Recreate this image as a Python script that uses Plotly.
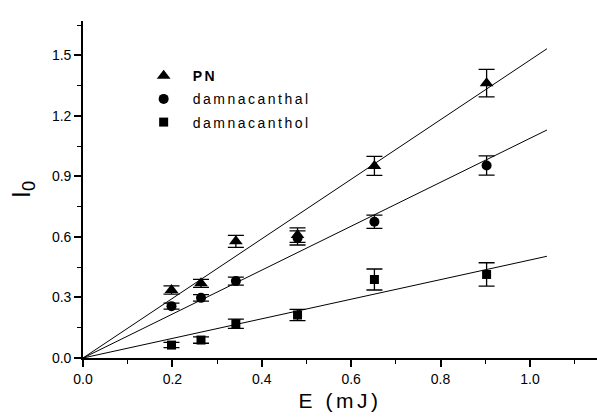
import plotly.graph_objects as go
import numpy as np

# Data
energy = [0.198, 0.264, 0.342, 0.48, 0.652, 0.903]

pn_vals = [0.337, 0.370, 0.578, 0.609, 0.952, 1.362]
pn_err = [0.020, 0.020, 0.030, 0.036, 0.047, 0.068]

dal_vals = [0.257, 0.298, 0.381, 0.595, 0.675, 0.954]
dal_err = [0.015, 0.016, 0.020, 0.035, 0.033, 0.048]

dol_vals = [0.064, 0.089, 0.170, 0.213, 0.389, 0.414]
dol_err = [0.013, 0.016, 0.023, 0.028, 0.052, 0.058]

series_names = ["<b>PN</b>", "damnacanthal", "damnacanthol"]
symbols = ["triangle-up", "circle", "square"]
marker_sizes = [12, 10, 9]

fit_x_max = 1.038

fig = go.Figure()

all_vals = [pn_vals, dal_vals, dol_vals]
all_err = [pn_err, dal_err, dol_err]
x = np.array(energy)

for i, (name, vals, err, sym, ms) in enumerate(zip(series_names, all_vals, all_err, symbols, marker_sizes)):
    y = np.array(vals)
    # linear fit through origin
    slope = float(np.sum(x * y) / np.sum(x * x))
    fx = np.array([0.0, fit_x_max])
    fig.add_trace(go.Scatter(
        x=fx, y=slope * fx, mode="lines",
        line=dict(color="black", width=1),
        showlegend=False, hoverinfo="skip"))
    fig.add_trace(go.Scatter(
        x=energy, y=vals, mode="markers", name=name,
        legendgroup=f"g{i}",
        marker=dict(symbol=sym, size=ms, color="black"),
        error_y=dict(type="data", array=err, visible=True,
                     color="black", thickness=1.3, width=8)))

axis_font = dict(family="Liberation Sans, Arial, sans-serif", size=14, color="black")

fig.update_layout(
    width=597, height=418,
    margin=dict(l=83, r=0, t=21, b=60),
    paper_bgcolor="white", plot_bgcolor="white",
    font=axis_font,
    showlegend=True,
    legend=dict(
        x=0.118, y=0.884, xanchor="left", yanchor="top",
        bgcolor="rgba(0,0,0,0)", borderwidth=0,
        font=dict(family="Liberation Sans, Arial, sans-serif", size=14, color="black"),
        traceorder="grouped", tracegroupgap=2,
    ),
    xaxis=dict(
        range=[0, 1.15], dtick=0.2, tick0=0, tickformat=".1f",
        showgrid=False, zeroline=False,
        showline=True, linecolor="black", linewidth=1.6,
        ticks="outside", ticklen=7, tickwidth=1.5, tickcolor="black",
        minor=dict(dtick=0.1, ticks="outside", ticklen=4, tickwidth=1.3, tickcolor="black"),
        tickfont=axis_font,
        title=dict(text="E (mJ)", font=dict(family="Liberation Sans, Arial, sans-serif", size=21, color="black"), standoff=8),
    ),
    yaxis=dict(
        range=[0, 1.67], dtick=0.3, tick0=0, tickformat=".1f",
        showgrid=False, zeroline=False,
        showline=True, linecolor="black", linewidth=1.6,
        ticks="outside", ticklen=7, tickwidth=1.5, tickcolor="black",
        minor=dict(dtick=0.15, ticks="outside", ticklen=4, tickwidth=1.3, tickcolor="black"),
        tickfont=axis_font,
        title=dict(text="I<sub>0</sub>", font=dict(family="Liberation Sans, Arial, sans-serif", size=26, color="black"), standoff=14),
    ),
)

# wider letter spacing on legend entries and x title, as in the reference
post = """
document.querySelectorAll('.legend [clip-path]').forEach(function(e){ e.removeAttribute('clip-path'); });
document.querySelectorAll('.legend .bg').forEach(function(e){ e.style.display='none'; });
document.querySelectorAll('.legendtext').forEach(function(t){
  t.style.letterSpacing='2.5px';
  var x0 = parseFloat(t.getAttribute('x') || '40');
  t.setAttribute('x', x0 + 9);
  t.querySelectorAll('tspan[x]').forEach(function(s){ s.setAttribute('x', parseFloat(s.getAttribute('x')) + 9); });
});
document.querySelectorAll('.xtitle').forEach(function(t){ t.style.letterSpacing='3.5px'; });
"""

fig.write_html("out.html", post_script=post)
